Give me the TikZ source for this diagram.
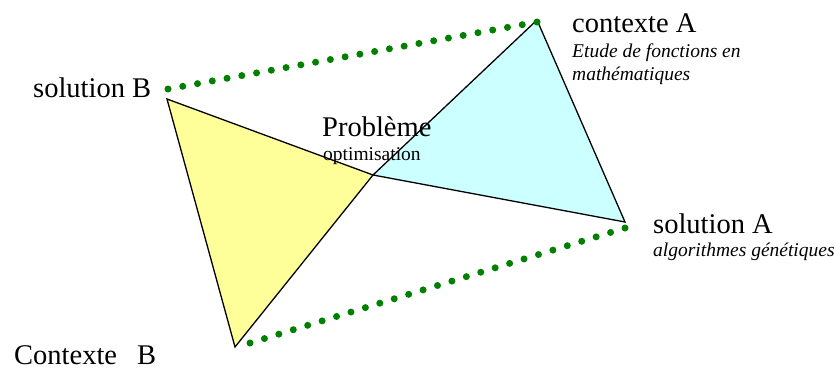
\documentclass[tikz,border=0pt]{standalone}
\usepackage{fontspec}
\setmainfont{Liberation Serif}
\usetikzlibrary{calc}
\definecolor{tyellow}{RGB}{255,255,153}
\definecolor{tcyan}{RGB}{204,255,255}
\definecolor{dotgreen}{RGB}{0,128,0}
\tikzset{
  big/.style={font=\fontsize{28.5}{30}\selectfont, inner sep=0pt, anchor=base west},
  small/.style={font=\fontsize{19.5}{22}\selectfont\itshape, inner sep=0pt, anchor=base west},
  tri/.style={draw=black, line width=1.3pt, line join=miter},
  greendot/.style={fill=dotgreen}
}
\begin{document}
\begin{tikzpicture}[x=1pt,y=-1pt]
\useasboundingbox (0,0) rectangle (835,370);
% vertices
\coordinate (M) at (373,175);
\coordinate (SB) at (167,99);
\coordinate (CB) at (235,347);
\coordinate (CA) at (537,20);
\coordinate (SA) at (625,222);
% dotted link ends
\coordinate (d1s) at (168,89);
\coordinate (d1e) at (537,22);
\coordinate (d2s) at (250,343);
\coordinate (d2e) at (625,228);
% triangles
\fill[tyellow] (SB) -- (M) -- (CB) -- cycle;
\fill[tcyan] (CA) -- (SA) -- (M) -- cycle;
\draw[tri] (SB) -- (M) -- (CB) -- cycle;
\draw[tri] (CA) -- (SA) -- (M) -- cycle;
% dotted lines
\foreach \t in {0,...,25} \fill[greendot] ($(d1s)!\t/25!(d1e)$) circle (3.5pt);
\foreach \t in {0,...,26} \fill[greendot] ($(d2s)!\t/26!(d2e)$) circle (3.5pt);
% labels
\node[big] (lsb) at (33,97) {solution B};
\node[big] (lca) at (572,32) {contexte A};
\node[small] (lca1) at (572,57) {Etude de fonctions en};
\node[small] (lca2) at (572,80) {mathématiques};
\node[big] (lsa) at (653,233) {solution A};
\node[small] (lsa1) at (653,256) {algorithmes génétiques};
\node[big] (lcb) at (14,364) {Contexte\hspace{0.7em}B};
\node[big] (lp) at (322,136) {Problème};
\node[font=\fontsize{19.5}{22}\selectfont, inner sep=0pt, anchor=base west] (lpo) at (323,160) {optimisation};
\end{tikzpicture}
\end{document}
